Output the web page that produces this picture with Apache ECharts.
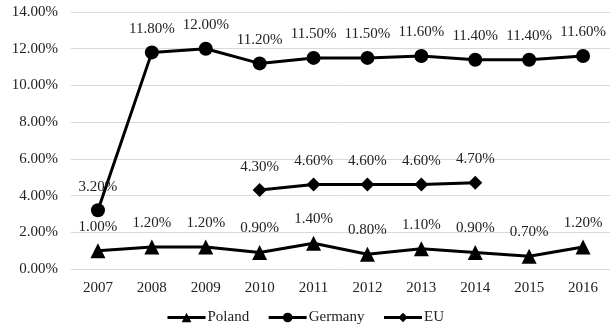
<!DOCTYPE html>
<html>
<head>
<meta charset="utf-8">
<script src="https://cdn.jsdelivr.net/npm/echarts@6/dist/echarts.min.js"></script>
<style>
  html, body { margin: 0; padding: 0; background: #fff; }
  #chart { width: 610px; height: 331px; }
</style>
</head>
<body>
<div id="chart"></div>
<script>
// Yearly shares (%) for each region
const years = ['2007', '2008', '2009', '2010', '2011', '2012', '2013', '2014', '2015', '2016'];
const poland = [1.00, 1.20, 1.20, 0.90, 1.40, 0.80, 1.10, 0.90, 0.70, 1.20];
const germany = [3.20, 11.80, 12.00, 11.20, 11.50, 11.50, 11.60, 11.40, 11.40, 11.60];
const eu = [null, null, null, 4.30, 4.60, 4.60, 4.60, 4.70, null, null];

const FONT = '"Liberation Serif", "Times New Roman", serif';
const FS = 15;
const pct = v => v.toFixed(2) + '%';

function lineSeries(name, data, symbol, size, labelDist) {
  return {
    name: name,
    type: 'line',
    data: data,
    symbol: symbol,
    symbolSize: size,
    showAllSymbol: true,
    connectNulls: false,
    lineStyle: { color: '#000', width: 3 },
    itemStyle: { color: '#000' },
    label: {
      show: true,
      position: 'top',
      distance: labelDist,
      color: '#222',
      fontFamily: FONT,
      fontSize: FS,
      formatter: p => pct(p.value)
    },
    emphasis: { disabled: true },
    animation: false
  };
}

const chart = echarts.init(document.getElementById('chart'), null, { renderer: 'canvas' });
chart.setOption({
  backgroundColor: '#fff',
  animation: false,
  grid: { left: 71, right: 0, top: 12, bottom: 62 },
  legend: {
    bottom: 1,
    left: 'center',
    itemGap: 18,
    itemWidth: 38,
    itemHeight: 12,
    lineStyle: { width: 3 },
    textStyle: { fontFamily: FONT, fontSize: FS, color: '#222', padding: [0, 0, 0, -3] },
    data: ['Poland', 'Germany', 'EU']
  },
  xAxis: {
    type: 'category',
    data: years,
    boundaryGap: true,
    axisLine: { show: false },
    axisTick: { show: false },
    axisLabel: { color: '#222', fontFamily: FONT, fontSize: FS, margin: 12 }
  },
  yAxis: {
    type: 'value',
    min: 0,
    max: 14,
    interval: 2,
    axisLine: { show: false },
    axisTick: { show: false },
    splitLine: { lineStyle: { color: '#d9d9d9', width: 1 } },
    axisLabel: {
      color: '#222', fontFamily: FONT, fontSize: FS, margin: 13,
      formatter: v => pct(v)
    }
  },
  series: [
    lineSeries('Poland', poland, 'triangle', 15, 9),
    lineSeries('Germany', germany, 'circle', 14, 9),
    lineSeries('EU', eu, 'diamond', 14, 9)
  ]
});
</script>
</body>
</html>
